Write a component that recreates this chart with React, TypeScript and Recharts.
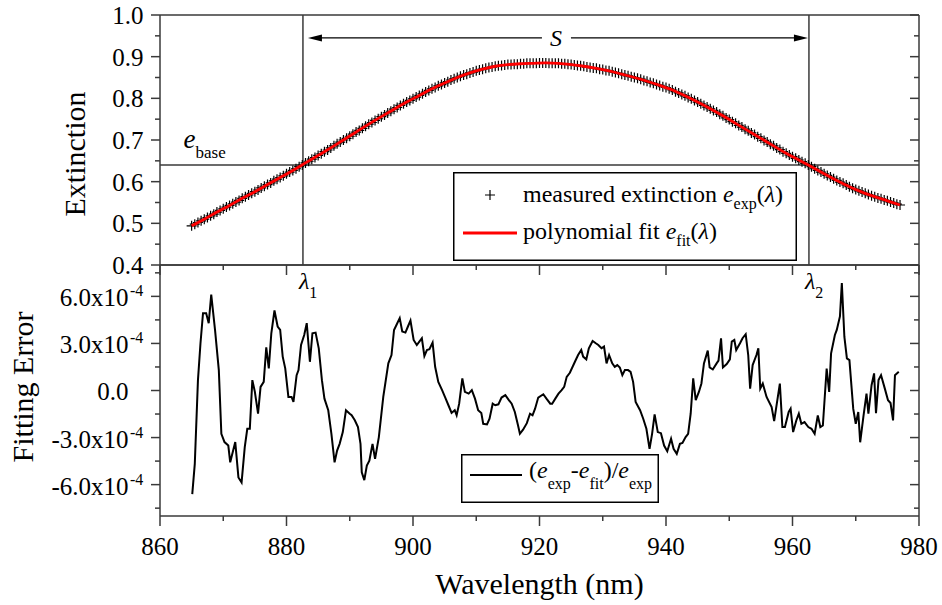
import { ComposedChart, Line, Scatter, XAxis, YAxis, ReferenceLine, Legend } from 'recharts';

const FONT = '"Liberation Serif", "Times New Roman", serif';
const AXIS = '#3a3a3a';

// tick positions
const xTicks = [860, 870, 880, 890, 900, 910, 920, 930, 940, 950, 960, 970, 980];
const extTicks = [0.4, 0.45, 0.5, 0.55, 0.6, 0.65, 0.7, 0.75, 0.8, 0.85, 0.9, 0.95, 1.0];
const errTicks = [-7.5, -6, -4.5, -3, -1.5, 0, 1.5, 3, 4.5, 6, 7.5]; // x10^-4

// measured extinction, sampled every 0.5 nm starting at 865 nm
const measuredStart = 865;
const measuredStep = 0.5;
const measuredExtinction = [
  0.494, 0.498, 0.502, 0.506, 0.510, 0.514, 0.518, 0.522, 0.527, 0.531,
  0.535, 0.539, 0.543, 0.547, 0.551, 0.555, 0.560, 0.564, 0.568, 0.572,
  0.576, 0.580, 0.585, 0.589, 0.593, 0.597, 0.602, 0.606, 0.610, 0.614,
  0.619, 0.623, 0.627, 0.631, 0.636, 0.640, 0.645, 0.649, 0.654, 0.658,
  0.663, 0.667, 0.672, 0.676, 0.681, 0.686, 0.691, 0.695, 0.700, 0.704,
  0.709, 0.714, 0.719, 0.723, 0.728, 0.733, 0.738, 0.742, 0.747, 0.751,
  0.756, 0.760, 0.765, 0.769, 0.774, 0.778, 0.783, 0.787, 0.791, 0.795,
  0.799, 0.803, 0.807, 0.811, 0.815, 0.819, 0.823, 0.826, 0.830, 0.833,
  0.837, 0.840, 0.844, 0.847, 0.850, 0.853, 0.856, 0.858, 0.861, 0.863,
  0.866, 0.868, 0.870, 0.872, 0.874, 0.875, 0.877, 0.878, 0.879, 0.880,
  0.881, 0.881, 0.882, 0.882, 0.883, 0.883, 0.884, 0.884, 0.884, 0.884,
  0.885, 0.885, 0.885, 0.884, 0.884, 0.884, 0.884, 0.883, 0.883, 0.882,
  0.881, 0.880, 0.879, 0.878, 0.877, 0.875, 0.874, 0.873, 0.872, 0.870,
  0.869, 0.867, 0.866, 0.864, 0.862, 0.860, 0.858, 0.856, 0.854, 0.852,
  0.850, 0.848, 0.846, 0.843, 0.841, 0.838, 0.836, 0.833, 0.831, 0.828,
  0.826, 0.823, 0.820, 0.816, 0.813, 0.809, 0.806, 0.802, 0.799, 0.795,
  0.791, 0.787, 0.783, 0.779, 0.775, 0.771, 0.767, 0.762, 0.758, 0.753,
  0.749, 0.744, 0.740, 0.735, 0.731, 0.726, 0.722, 0.717, 0.713, 0.708,
  0.704, 0.699, 0.695, 0.690, 0.686, 0.681, 0.677, 0.672, 0.668, 0.664,
  0.660, 0.656, 0.652, 0.648, 0.644, 0.640, 0.636, 0.631, 0.627, 0.623,
  0.619, 0.615, 0.611, 0.607, 0.603, 0.599, 0.596, 0.592, 0.588, 0.584,
  0.581, 0.578, 0.575, 0.572, 0.569, 0.566, 0.564, 0.561, 0.559, 0.556,
  0.554, 0.551, 0.549, 0.546, 0.544,
];

// polynomial fit
const fitWavelength = [
  865, 867, 869, 871, 873, 875, 877, 879, 881, 883, 885, 887, 889, 891, 893, 895, 897, 899, 901,
  903, 905, 907, 909, 911, 913, 915, 917, 919, 921, 923, 925, 927, 929, 931, 933, 935, 937, 939,
  941, 943, 945, 947, 949, 951, 953, 955, 957, 959, 961, 963, 965, 967, 969, 971, 973, 975, 977,
];
const fitExtinction = [
  0.494, 0.510, 0.527, 0.543, 0.560, 0.576, 0.593, 0.610, 0.627, 0.645, 0.663, 0.681, 0.700, 0.719,
  0.738, 0.756, 0.774, 0.791, 0.807, 0.823, 0.837, 0.850, 0.861, 0.870, 0.877, 0.881, 0.883, 0.884,
  0.885, 0.884, 0.881, 0.877, 0.872, 0.866, 0.858, 0.850, 0.841, 0.831, 0.820, 0.806, 0.791, 0.775,
  0.758, 0.740, 0.722, 0.704, 0.686, 0.668, 0.652, 0.636, 0.619, 0.603, 0.588, 0.575, 0.564, 0.554,
  0.544,
];

// fitting error, units of 1e-4
const errWavelength = [
  865.1, 865.5, 866.0, 866.4, 866.8, 867.3, 867.7, 868.1, 868.7, 869.3, 869.7, 870.2, 870.8, 871.1,
  871.9, 872.4, 872.9, 873.4, 873.8, 874.2, 874.6, 875.0, 875.5, 875.9, 876.4, 876.8, 877.2, 877.6,
  878.1, 878.6, 879.0, 879.4, 879.8, 880.3, 880.8, 881.1, 881.6, 881.9, 882.3, 882.8, 883.2, 883.7,
  884.1, 884.6, 885.1, 885.6, 886.0, 886.6, 887.1, 887.6, 888.0, 888.4, 888.9, 889.4, 890.0, 890.3,
  890.8, 891.3, 891.7, 891.9, 892.3, 892.7, 893.1, 893.6, 894.0, 894.6, 895.3, 896.1, 896.6, 897.0,
  897.4, 897.9, 898.3, 898.8, 899.2, 899.6, 900.1, 900.6, 901.0, 901.4, 901.8, 902.2, 902.6, 903.1,
  903.5, 904.0, 904.6, 905.1, 905.6, 906.1, 906.6, 906.9, 907.3, 907.8, 908.2, 908.8, 909.3, 909.8,
  910.3, 910.8, 911.1, 911.7, 912.1, 912.6, 913.0, 913.5, 914.0, 914.6, 915.1, 915.6, 916.1, 916.6,
  916.9, 917.4, 918.0, 918.5, 918.9, 919.3, 919.8, 920.6, 921.1, 921.7, 922.0, 922.5, 923.0, 923.5,
  923.9, 924.3, 924.8, 925.6, 926.1, 926.6, 926.9, 927.4, 927.8, 928.4, 928.9, 929.3, 929.8, 930.2,
  930.6, 931.0, 931.5, 931.9, 932.3, 932.7, 933.1, 933.5, 934.0, 934.4, 934.8, 935.2, 935.9, 936.4,
  936.9, 937.4, 937.8, 938.2, 938.7, 939.2, 939.7, 940.2, 940.8, 941.2, 941.7, 942.2, 942.6, 943.1,
  943.5, 943.9, 944.3, 944.7, 945.2, 945.6, 946.0, 946.6, 946.9, 947.4, 948.0, 948.3, 948.7, 949.0,
  949.6, 950.1, 950.4, 950.8, 951.1, 951.7, 952.1, 952.6, 953.0, 953.3, 953.7, 954.3, 954.6, 954.9,
  955.3, 955.9, 956.7, 957.1, 958.0, 958.4, 958.8, 959.4, 959.7, 960.1, 960.6, 961.0, 961.4, 961.9,
  962.5, 963.0, 963.5, 964.0, 964.4, 964.8, 965.4, 965.8, 966.1, 966.7, 967.0, 967.5, 967.8, 968.2,
  968.6, 969.0, 969.6, 970.0, 970.4, 970.7, 971.2, 971.7, 972.0, 972.5, 972.9, 973.2, 973.6, 974.0,
  974.6, 975.1, 975.5, 975.9, 976.2, 976.8,
];
const errValue = [
  -6.61, -4.68, 0.66, 3.01, 4.93, 4.93, 4.29, 6.11, 3.87, 1.30, -2.76, -3.29, -3.51, -4.58,
  -3.29, -5.54, -5.86, -3.61, -2.44, -2.44, 0.66, -0.09, -1.48, 0.23, 0.55, 2.75, 1.41, 3.65,
  5.10, 4.08, 3.86, 2.16, 1.41, -0.41, -0.41, -0.73, 0.98, 1.30, 2.90, 3.54, 4.29, 1.83,
  3.65, 3.69, 2.69, 0.66, -0.52, -1.26, -2.76, -4.58, -3.83, -3.40, -2.65, -1.26, -1.48, -1.58,
  -1.90, -2.33, -3.40, -5.22, -5.71, -4.79, -4.47, -3.40, -4.36, -2.97, -0.41, 1.73, 2.26, 3.86,
  4.19, 4.61, 3.76, 3.69, 4.08, 4.46, 3.22, 2.90, 3.12, 3.33, 2.20, 2.58, 2.63, 3.05,
  1.51, 0.55, 0.02, -0.45, -0.94, -1.43, -1.26, -1.58, -0.84, 0.77, -0.09, -0.20, 0.02, -0.52,
  -1.26, -1.43, -2.12, -2.16, -1.80, -0.84, -0.94, -0.88, -0.45, -0.30, -0.58, -0.84, -1.37, -2.22,
  -2.76, -2.50, -2.08, -1.48, -1.58, -1.16, -0.45, -0.24, -0.52, -0.84, -0.84, -0.52, -0.20, 0.02,
  0.23, 0.87, 1.13, 1.83, 2.26, 2.58, 2.16, 1.98, 2.69, 3.16, 3.01, 2.90, 2.69, 2.80,
  1.73, 2.26, 1.73, 1.51, 1.62, 1.47, 0.98, 1.30, 1.30, 1.19, 0.55, -0.73, -1.26, -1.80,
  -2.44, -3.72, -2.76, -1.52, -2.65, -2.72, -3.51, -3.87, -3.08, -3.72, -4.04, -3.40, -3.34, -2.97,
  -2.76, -1.48, 0.77, -0.62, -0.09, 0.45, 1.73, 2.54, 1.47, 1.34, 1.73, 1.90, 3.33, 1.47,
  1.69, 1.98, 3.12, 3.22, 2.58, 3.01, 3.33, 3.59, 2.26, 0.12, 1.62, 2.26, 2.69, 0.12,
  0.44, -0.41, -1.05, -1.95, 0.44, -2.33, -2.33, -1.37, -1.16, -2.65, -1.91, -1.48, -2.12, -2.01,
  -2.33, -2.44, -2.76, -1.59, -2.33, -2.23, 1.40, -0.09, 2.37, 3.54, 3.86, 4.72, 6.85, 3.43,
  2.05, 1.94, -1.16, -2.12, -1.37, -3.30, -1.69, -0.20, -1.48, 0.34, 1.09, -1.44, 0.66, 0.98,
  0.12, -0.62, -0.80, -1.91, 0.98, 1.19,
];

// annotation positions
const lambda1 = 882.6;
const lambda2 = 962.6;
const eBase = 0.64;
const arrowLevel = 0.945;

const measuredData = measuredExtinction.map((e, i) => ({ wl: measuredStart + i * measuredStep, e }));
const fitData = fitWavelength.map((wl, i) => ({ wl, e: fitExtinction[i] }));
const errData = errWavelength.map((wl, i) => ({ wl, err: errValue[i] }));

const isMult = (v: number, step: number) => Math.abs(v / step - Math.round(v / step)) < 1e-6;

// x ticks always drawn downward (top axis inward, bottom axes outward)
function XTick(props: any) {
  const { x, y, payload, showLabel } = props;
  const v = payload.value;
  const major = isMult(v, 20);
  return (
    <g>
      <line x1={x} y1={y} x2={x} y2={y + (major ? 10 : 5)} stroke={AXIS} strokeWidth={1.5} />
      {showLabel && major && (
        <text x={x} y={y + 39} textAnchor="middle" fontSize={25} fontFamily={FONT} fill="#000">
          {v}
        </text>
      )}
    </g>
  );
}

// y ticks always drawn leftward (left axis outward, right axis inward)
function YTick(props: any) {
  const { x, y, payload, kind, showLabel } = props;
  const v = payload.value;
  const major = kind === 'ext' ? isMult(v, 0.1) : isMult(v, 3);
  let label = null;
  if (showLabel && major) {
    if (kind === 'ext') {
      label = (
        <text x={x - 16.5} y={y + 9} textAnchor="end" fontSize={25} fontFamily={FONT} fill="#000">
          {v.toFixed(1)}
        </text>
      );
    } else if (v === 0) {
      label = (
        <text x={x - 31.5} y={y + 9} textAnchor="end" fontSize={25} fontFamily={FONT} fill="#000">
          0.0
        </text>
      );
    } else {
      label = (
        <g fontFamily={FONT} fill="#000">
          <text x={x - 31.5} y={y + 10} textAnchor="end" fontSize={25}>{`${v.toFixed(1)}x10`}</text>
          <text x={x - 30} y={y} textAnchor="start" fontSize={16}>-4</text>
        </g>
      );
    }
  }
  return (
    <g>
      <line x1={x} y1={y} x2={x - (major ? 9 : 5)} y2={y} stroke={AXIS} strokeWidth={1.5} />
      {label}
    </g>
  );
}

function PlusMarker(props: any) {
  const { cx, cy } = props;
  return <path d={`M${cx - 5},${cy}h10M${cx},${cy - 5}v10`} stroke="#000" strokeWidth={1.2} fill="none" />;
}

function LambdaLabel({ viewBox, sub }: any) {
  const x = viewBox.x - 4;
  const y = viewBox.y + viewBox.height + 24;
  return (
    <text x={x} y={y} fontFamily={FONT} fill="#000">
      <tspan fontSize={24} fontStyle="italic">λ</tspan>
      <tspan fontSize={16} dy={9}>{sub}</tspan>
    </text>
  );
}

function BaseLabel({ viewBox }: any) {
  return (
    <text x={viewBox.x + 23.5} y={viewBox.y - 17} fontFamily={FONT} fill="#000">
      <tspan fontSize={27} fontStyle="italic">e</tspan>
      <tspan fontSize={17} dy={10}>base</tspan>
    </text>
  );
}

function SpanArrow(props: any) {
  const { x1, x2, y1 } = props;
  const y = y1;
  const l = x1 + 5;
  const r = x2 - 1;
  const mid = (x1 + x2) / 2;
  return (
    <g>
      <line x1={l + 10} y1={y} x2={mid - 14} y2={y} stroke="#000" strokeWidth={1.3} />
      <line x1={mid + 15} y1={y} x2={r - 10} y2={y} stroke="#000" strokeWidth={1.3} />
      <polygon points={`${l},${y} ${l + 14},${y - 3.5} ${l + 14},${y + 3.5}`} fill="#000" />
      <polygon points={`${r},${y} ${r - 14},${y - 3.5} ${r - 14},${y + 3.5}`} fill="#000" />
      <text x={mid} y={y + 8} textAnchor="middle" fontSize={24} fontStyle="italic" fontFamily={FONT} fill="#000">
        S
      </text>
    </g>
  );
}

function TopLegend() {
  return (
    <svg width={344} height={89} style={{ display: 'block' }}>
      <rect x={0.75} y={0.75} width={342.5} height={87.5} fill="#fff" stroke="#000" strokeWidth={1.5} />
      <path d="M32,23h10M37,18v10" stroke="#000" strokeWidth={1.2} />
      <text x={70} y={30} fontFamily={FONT} fontSize={24} fill="#000">
        <tspan>measured extinction </tspan>
        <tspan fontStyle="italic">e</tspan>
        <tspan fontSize={16} dy={7}>exp</tspan>
        <tspan dy={-7}>(</tspan>
        <tspan fontStyle="italic">λ</tspan>
        <tspan>)</tspan>
      </text>
      <line x1={10} y1={61} x2={64} y2={61} stroke="#ff0000" strokeWidth={2.8} />
      <text x={70} y={67} fontFamily={FONT} fontSize={24} fill="#000">
        <tspan>polynomial fit </tspan>
        <tspan fontStyle="italic">e</tspan>
        <tspan fontSize={16} dy={7}>fit</tspan>
        <tspan dy={-7}>(</tspan>
        <tspan fontStyle="italic">λ</tspan>
        <tspan>)</tspan>
      </text>
    </svg>
  );
}

function ErrLegend() {
  return (
    <svg width={198} height={49} style={{ display: 'block' }}>
      <rect x={0.75} y={0.75} width={196.5} height={47.5} fill="#fff" stroke="#000" strokeWidth={1.5} />
      <line x1={9} y1={21} x2={61} y2={21} stroke="#000" strokeWidth={2} />
      <text x={68} y={24} fontFamily={FONT} fontSize={24} fill="#000">
        <tspan>(</tspan>
        <tspan fontStyle="italic">e</tspan>
        <tspan fontSize={16} dy={11}>exp</tspan>
        <tspan dy={-11}>-</tspan>
        <tspan fontStyle="italic">e</tspan>
        <tspan fontSize={16} dy={11}>fit</tspan>
        <tspan dy={-11}>)/</tspan>
        <tspan fontStyle="italic">e</tspan>
        <tspan fontSize={16} dy={11}>exp</tspan>
      </text>
    </svg>
  );
}

const rotTitle = (text: string, bx: number, cy: number) => (
  <text
    x={bx}
    y={cy}
    transform={`rotate(-90 ${bx} ${cy})`}
    textAnchor="middle"
    fontSize={30}
    fontFamily={FONT}
    fill="#000"
  >
    {text}
  </text>
);

const axisLine = { stroke: AXIS, strokeWidth: 1.5 };

export default function App() {
  return (
    <div style={{ position: 'absolute', left: 0, top: 0, width: 942, height: 605, background: '#fff', fontFamily: FONT }}>
      <div style={{ position: 'absolute', left: 0, top: 0 }}>
        <ComposedChart width={942} height={605} margin={{ top: 264, right: 22, bottom: 0, left: 0 }}>
          <XAxis
            xAxisId="b"
            type="number"
            dataKey="wl"
            domain={[860, 980]}
            ticks={xTicks}
            interval={0}
            allowDataOverflow
            height={89}
            tickSize={0}
            tickMargin={0}
            tickLine={false}
            axisLine={axisLine}
            tick={<XTick showLabel />}
            label={() => (
              <text x={539.5} y={594} textAnchor="middle" fontSize={30} fontFamily={FONT} fill="#000">
                Wavelength (nm)
              </text>
            )}
          />
          <XAxis
            xAxisId="t"
            orientation="top"
            type="number"
            domain={[860, 980]}
            ticks={xTicks}
            interval={0}
            allowDataOverflow
            height={1}
            tick={false}
            tickLine={false}
            axisLine={axisLine}
          />
          <YAxis
            yAxisId="l"
            type="number"
            domain={[-8, 8]}
            ticks={errTicks}
            interval={0}
            allowDataOverflow
            width={160}
            tickSize={0}
            tickMargin={0}
            tickLine={false}
            axisLine={axisLine}
            tick={<YTick kind="err" showLabel />}
            label={() => rotTitle('Fitting Error', 33, 387)}
          />
          <YAxis
            yAxisId="r"
            orientation="right"
            type="number"
            domain={[-8, 8]}
            ticks={errTicks}
            interval={0}
            allowDataOverflow
            width={1}
            tickSize={0}
            tickMargin={0}
            tickLine={false}
            axisLine={axisLine}
            tick={<YTick kind="err" />}
          />
          <Line
            xAxisId="b"
            yAxisId="l"
            data={errData}
            dataKey="err"
            type="linear"
            stroke="#000"
            strokeWidth={2}
            dot={false}
            isAnimationActive={false}
          />
          <Legend
            layout="horizontal"
            verticalAlign="middle"
            align="center"
            wrapperStyle={{ left: 461, top: 454, width: 198, height: 49 }}
            content={() => <ErrLegend />}
          />
        </ComposedChart>
      </div>
      <div style={{ position: 'absolute', left: 0, top: 0 }}>
        <ComposedChart width={942} height={305} margin={{ top: 14, right: 22, bottom: 0, left: 0 }}>
          <XAxis
            xAxisId="b"
            type="number"
            dataKey="wl"
            domain={[860, 980]}
            ticks={xTicks}
            interval={0}
            allowDataOverflow
            height={40}
            tickSize={0}
            tickMargin={0}
            tickLine={false}
            axisLine={axisLine}
            tick={<XTick />}
          />
          <XAxis
            xAxisId="t"
            orientation="top"
            type="number"
            domain={[860, 980]}
            ticks={xTicks}
            interval={0}
            allowDataOverflow
            height={1}
            tickSize={0}
            tickMargin={0}
            tickLine={false}
            axisLine={axisLine}
            tick={<XTick />}
          />
          <YAxis
            yAxisId="l"
            type="number"
            domain={[0.4, 1.0]}
            ticks={extTicks}
            interval={0}
            allowDataOverflow
            width={160}
            tickSize={0}
            tickMargin={0}
            tickLine={false}
            axisLine={axisLine}
            tick={<YTick kind="ext" showLabel />}
            label={() => rotTitle('Extinction', 85, 154)}
          />
          <YAxis
            yAxisId="r"
            orientation="right"
            type="number"
            domain={[0.4, 1.0]}
            ticks={extTicks}
            interval={0}
            allowDataOverflow
            width={1}
            tickSize={0}
            tickMargin={0}
            tickLine={false}
            axisLine={axisLine}
            tick={<YTick kind="ext" />}
          />
          <ReferenceLine
            xAxisId="b"
            yAxisId="l"
            y={eBase}
            stroke={AXIS}
            strokeWidth={1.5}
            label={(p: any) => <BaseLabel viewBox={p.viewBox} />}
          />
          <ReferenceLine
            xAxisId="b"
            yAxisId="l"
            x={lambda1}
            stroke={AXIS}
            strokeWidth={1.5}
            label={(p: any) => <LambdaLabel viewBox={p.viewBox} sub="1" />}
          />
          <ReferenceLine
            xAxisId="b"
            yAxisId="l"
            x={lambda2}
            stroke={AXIS}
            strokeWidth={1.5}
            label={(p: any) => <LambdaLabel viewBox={p.viewBox} sub="2" />}
          />
          <ReferenceLine
            xAxisId="b"
            yAxisId="l"
            segment={[
              { x: lambda1, y: arrowLevel },
              { x: lambda2, y: arrowLevel },
            ]}
            shape={(p: any) => <SpanArrow {...p} />}
          />
          <Scatter
            xAxisId="b"
            yAxisId="l"
            data={measuredData}
            dataKey="e"
            shape={(p: any) => <PlusMarker {...p} />}
            isAnimationActive={false}
          />
          <Line
            xAxisId="b"
            yAxisId="l"
            data={fitData}
            dataKey="e"
            type="monotone"
            stroke="#ff0000"
            strokeWidth={2.8}
            dot={false}
            isAnimationActive={false}
            zIndex={700}
          />
          <Legend
            layout="horizontal"
            verticalAlign="middle"
            align="center"
            wrapperStyle={{ left: 453, top: 172, width: 344, height: 89 }}
            content={() => <TopLegend />}
          />
        </ComposedChart>
      </div>
    </div>
  );
}
